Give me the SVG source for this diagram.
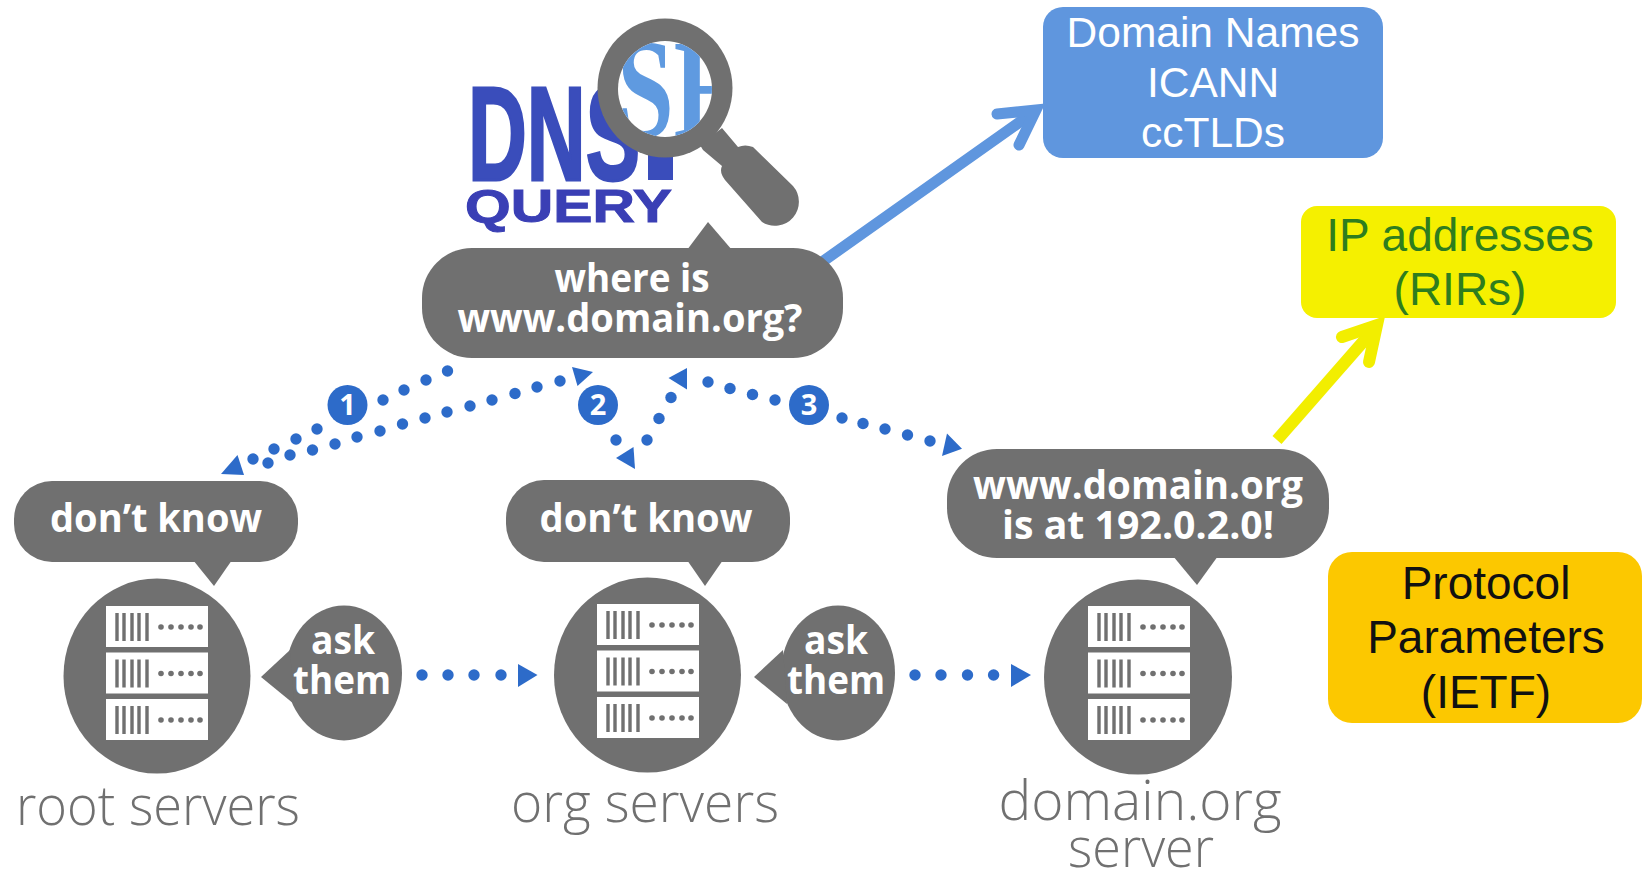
<svg xmlns="http://www.w3.org/2000/svg" width="1645" height="874" viewBox="0 0 1645 874">
<style>
.g{fill:#707070}
.w{fill:#fff}
.b{font-family:"Open Sans","Noto Sans",sans-serif;font-weight:700;fill:#fff;text-anchor:middle;font-size:40px}
.l{font-family:"Open Sans","Noto Sans",sans-serif;font-weight:300;fill:#707070;text-anchor:middle;font-size:55px}
.a{font-family:"Liberation Sans",Arial,sans-serif;text-anchor:middle;font-size:42.5px}
.c{font-size:46px}
.h{fill:#2d6bc9}
.dots circle{fill:#2d6bc9;r:5.7px}
.n{font-family:"Open Sans","Noto Sans",sans-serif;font-weight:700;fill:#fff;text-anchor:middle;font-size:29px}
.bar{stroke:#707070;stroke-width:3.4;fill:none}
.sd{fill:#707070}
.ab{fill:none;stroke:#5f96de;stroke-width:11;stroke-linecap:round}
.ay{fill:none;stroke:#f2ee00;stroke-width:12;stroke-linecap:round}
</style>
<defs>
<clipPath id="lens"><ellipse cx="665" cy="89" rx="47" ry="48"/></clipPath>
<g id="row">
<rect class="w" width="102" height="41"/>
<path class="bar" d="M11 7V35M18 7V35M26 7V35M33 7V35M41 7V35"/>
<circle class="sd" cx="55" cy="21" r="2.8"/><circle class="sd" cx="65" cy="21" r="2.8"/><circle class="sd" cx="75" cy="21" r="2.8"/><circle class="sd" cx="85" cy="21" r="2.8"/><circle class="sd" cx="94" cy="21" r="2.8"/>
</g>
<g id="rack"><use href="#row" y="0"/><use href="#row" y="46.5"/><use href="#row" y="93"/></g>
</defs>
<rect width="1645" height="874" fill="#fff"/>

<g id="logo">
<text x="468" y="180" font-family="Liberation Sans,Arial,sans-serif" font-weight="700" font-size="134" fill="#3a4dbb" stroke="#3a4dbb" stroke-width="3" textLength="172" lengthAdjust="spacingAndGlyphs">DNS</text>
<rect x="648" y="140" width="25" height="40" fill="#3a4dbb"/>
<text x="465" y="222" font-family="Liberation Sans,Arial,sans-serif" font-weight="700" font-size="47" fill="#3a3fb5" stroke="#3a3fb5" stroke-width="1" textLength="207" lengthAdjust="spacingAndGlyphs">QUERY</text>
<path class="g" d="M700 145L722 128L738 147Q745 144 753 147L793 186A24 24 0 0 1 762 222L725 180Q719 172 722 166L703 150Z"/>
<ellipse class="g" cx="665" cy="88" rx="67.5" ry="69.5"/>
<ellipse cx="665" cy="89" rx="47" ry="48" fill="#fff"/>
<text clip-path="url(#lens)" x="617" y="137" font-family="Liberation Serif,serif" font-weight="700" font-size="142" fill="#5f9ae0" textLength="125" lengthAdjust="spacingAndGlyphs">SE</text>
</g>

<g id="connectors">
<path class="ab" d="M822 262L1034 112"/>
<path class="ab" d="M997 114L1036 110L1019 145" stroke-linejoin="miter"/>
<path d="M1277 440L1376 327" fill="none" stroke="#f2ee00" stroke-width="12"/>
<path class="ay" d="M1342 337L1377 325L1369 362"/>
<g class="dots">
<circle cx="447.5" cy="371"/><circle cx="426" cy="380"/><circle cx="404" cy="390"/><circle cx="383" cy="400"/>
<circle cx="317" cy="429"/><circle cx="296" cy="439"/><circle cx="274" cy="449"/><circle cx="253" cy="459"/>
<circle cx="268" cy="463"/><circle cx="290" cy="455"/><circle cx="312.5" cy="450"/><circle cx="335" cy="444"/><circle cx="357" cy="437"/><circle cx="380" cy="431"/><circle cx="402.5" cy="424"/><circle cx="425" cy="418"/><circle cx="447" cy="412"/><circle cx="470" cy="406"/><circle cx="492" cy="400"/><circle cx="515" cy="393.5"/><circle cx="537" cy="387"/><circle cx="560" cy="381"/>
<circle cx="616" cy="440"/><circle cx="647" cy="440"/><circle cx="659" cy="418.5"/><circle cx="671" cy="397.5"/>
<circle cx="708" cy="382"/><circle cx="730" cy="388.5"/><circle cx="752.5" cy="394.5"/><circle cx="775" cy="400"/>
<circle cx="842" cy="418"/><circle cx="863" cy="423.5"/><circle cx="885" cy="429"/><circle cx="907.5" cy="435"/><circle cx="930" cy="441"/>
<circle cx="422" cy="675"/><circle cx="448" cy="675"/><circle cx="474" cy="675"/><circle cx="501" cy="675"/>
<circle cx="915" cy="675"/><circle cx="941" cy="675"/><circle cx="967.5" cy="675"/><circle cx="993.6" cy="675"/>
</g>
<polygon class="h" points="221,474 237.5,455 244,475"/>
<polygon class="h" points="572,367 593,372 577.5,386"/>
<polygon class="h" points="616,458 633.5,447 635,469"/>
<polygon class="h" points="668.5,378 687,368 687,389.5"/>
<polygon class="h" points="962,448.7 947,433.6 942,456"/>
<polygon class="h" points="518,664 537.5,675 518,687"/>
<polygon class="h" points="1011,664 1031,675 1011,687"/>
</g>

<g id="badge1"><circle class="h" cx="347.5" cy="405" r="20"/><text class="n" x="347.5" y="415">1</text></g>
<g id="badge2"><circle class="h" cx="598" cy="405" r="20"/><text class="n" x="598" y="415">2</text></g>
<g id="badge3"><circle class="h" cx="809" cy="405" r="20"/><text class="n" x="809" y="415">3</text></g>

<g id="query">
<rect class="g" x="422" y="248" width="421" height="110" rx="50"/>
<polygon class="g" points="687,250 708,222 732,250"/>
<text class="b" x="632" y="292" textLength="155" lengthAdjust="spacingAndGlyphs">where is</text>
<text class="b" x="630" y="332" textLength="345" lengthAdjust="spacingAndGlyphs">www.domain.org?</text>
</g>

<g id="root-servers">
<rect class="g" x="14" y="481" width="284" height="81" rx="38"/>
<polygon class="g" points="193,560 232,560 214,586"/>
<text class="b" x="156" y="532" textLength="212" lengthAdjust="spacingAndGlyphs">don’t know</text>
<ellipse class="g" cx="157" cy="676" rx="93.5" ry="97.5"/>
<use href="#rack" x="106" y="606"/>
<text class="l" x="158" y="825" textLength="284" lengthAdjust="spacingAndGlyphs">root servers</text>
</g>
<g id="ask1">
<ellipse class="g" cx="344" cy="673" rx="58" ry="67.5"/>
<polygon class="g" points="261,677 290,650 294,704"/>
<text class="b" x="343" y="654" textLength="64" lengthAdjust="spacingAndGlyphs">ask</text>
<text class="b" x="342" y="694" textLength="98" lengthAdjust="spacingAndGlyphs">them</text>
</g>

<g id="org-servers">
<rect class="g" x="506" y="480" width="284" height="82" rx="38"/>
<polygon class="g" points="687,560 723,560 705,586"/>
<text class="b" x="646" y="532" textLength="213" lengthAdjust="spacingAndGlyphs">don’t know</text>
<ellipse class="g" cx="647.5" cy="675" rx="93.5" ry="97.5"/>
<use href="#rack" x="597" y="604"/>
<text class="l" x="645" y="822" textLength="268" lengthAdjust="spacingAndGlyphs">org servers</text>
</g>
<g id="ask2">
<ellipse class="g" cx="838" cy="673" rx="57" ry="67.5"/>
<polygon class="g" points="754,677 783,650 787,704"/>
<text class="b" x="836" y="654" textLength="64" lengthAdjust="spacingAndGlyphs">ask</text>
<text class="b" x="836" y="694" textLength="98" lengthAdjust="spacingAndGlyphs">them</text>
</g>

<g id="domain-server">
<rect class="g" x="947" y="449" width="382" height="109" rx="50"/>
<polygon class="g" points="1173,556 1218,556 1197,585"/>
<text class="b" x="1138" y="499" textLength="330" lengthAdjust="spacingAndGlyphs">www.domain.org</text>
<text class="b" x="1138" y="539" textLength="272" lengthAdjust="spacingAndGlyphs">is at 192.0.2.0!</text>
<ellipse class="g" cx="1138" cy="677" rx="94" ry="97.5"/>
<use href="#rack" x="1088" y="606"/>
<text class="l" x="1140" y="820" textLength="283" lengthAdjust="spacingAndGlyphs">domain.org</text>
<text class="l" x="1141" y="867" textLength="146" lengthAdjust="spacingAndGlyphs">server</text>
</g>

<g id="domain-names">
<rect x="1043" y="7" width="340" height="151" rx="20" fill="#5f96de"/>
<text class="a" x="1213" y="47" fill="#fff">Domain Names</text>
<text class="a" x="1213" y="97" fill="#fff">ICANN</text>
<text class="a" x="1213" y="147" fill="#fff">ccTLDs</text>
</g>
<g id="ip-addresses">
<rect x="1301" y="206" width="315" height="112" rx="16" fill="#f5f000"/>
<text class="a c" x="1460" y="251" fill="#2e7d1e">IP addresses</text>
<text class="a c" x="1460" y="305" fill="#2e7d1e">(RIRs)</text>
</g>
<g id="protocol">
<rect x="1328" y="552" width="314" height="171" rx="24" fill="#fcc800"/>
<text class="a c" x="1486" y="599" fill="#111">Protocol</text>
<text class="a c" x="1486" y="653" fill="#111">Parameters</text>
<text class="a c" x="1486" y="708" fill="#111">(IETF)</text>
</g>
</svg>
